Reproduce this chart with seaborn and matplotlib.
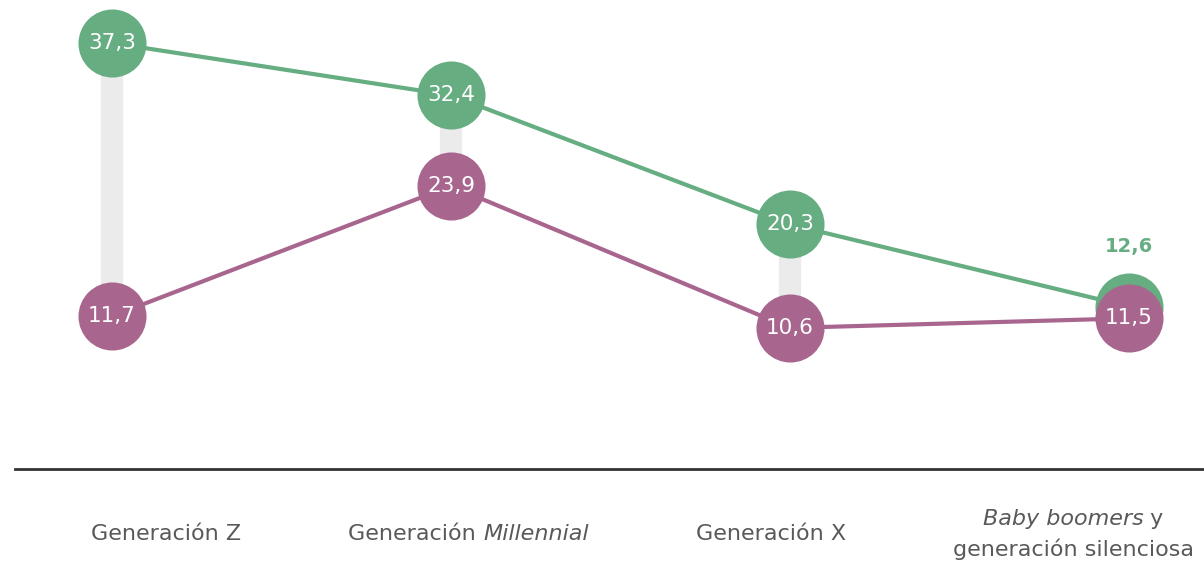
import matplotlib
matplotlib.use("Agg")
import matplotlib.pyplot as plt
import matplotlib.transforms as mtransforms
import seaborn as sns
import pandas as pd

# data
categories = ["Generación Z", "Generación Millennial", "Generación X",
              "Baby boomers y generación silenciosa"]
green_vals = [37.3, 32.4, 20.3, 12.6]
purple_vals = [11.7, 23.9, 10.6, 11.5]
# tick labels with italic parts, line by line
tick_parts = [
    [[("Generación Z", "normal")]],
    [[("Generación ", "normal"), ("Millennial", "italic")]],
    [[("Generación X", "normal")]],
    [[("Baby boomers", "italic"), (" y", "normal")],
     [("generación silenciosa", "normal")]],
]

GREEN = "#66ad82"
PURPLE = "#a8668f"
GREY_BAR = "#ebebeb"
TXT = "#595959"

sns.set_style("white")
plt.rcParams["font.family"] = ["DejaVu Sans"]

df = pd.DataFrame({"x": range(len(categories)), "green": green_vals, "purple": purple_vals})

fig = plt.figure(figsize=(12.04, 5.63), dpi=100)
ax = fig.add_axes([15 / 1204, 94 / 563, 1 - 15 / 1204, 469 / 563])

# grey connectors
ax.vlines(df["x"], df["purple"], df["green"], color=GREY_BAR, lw=16, zorder=1)

sns.lineplot(data=df, x="x", y="green", color=GREEN, lw=3, marker="o",
             markersize=49, markeredgewidth=0, ax=ax, zorder=2, clip_on=False)
sns.lineplot(data=df, x="x", y="purple", color=PURPLE, lw=3, marker="o",
             markersize=49, markeredgewidth=0, ax=ax, zorder=3, clip_on=False)


def fmt(v):
    return f"{v:.1f}".replace(".", ",")


for i in range(len(categories)):
    g, p = green_vals[i], purple_vals[i]
    if abs(g - p) > 3:
        ax.text(i, g, fmt(g), ha="center", va="center", color="white",
                fontsize=15.5, zorder=5)
    else:
        ax.text(i, g + 5.6, fmt(g), ha="center", va="center", color=GREEN,
                fontsize=14, fontweight="bold", zorder=5)
    ax.text(i, p, fmt(p), ha="center", va="center", color="white",
            fontsize=15.5, zorder=5)

ax.set_xlim(-0.2861, 3.2212)
ax.set_ylim(-2.62, 41.33)
ax.set_xlabel("")
ax.set_ylabel("")
ax.set_xticks([])
ax.set_yticks([])
for s in ["top", "left", "right"]:
    ax.spines[s].set_visible(False)
ax.spines["bottom"].set_color("#333333")
ax.spines["bottom"].set_linewidth(2)

# category labels sit in equal bands along the baseline, mixed styles
band = 302.3 / (1204 - 15)
fig.canvas.draw()
renderer = fig.canvas.get_renderer()
for i, lines in enumerate(tick_parts):
    n = len(lines)
    for j, line in enumerate(lines):
        dy = -65 - (j - (n - 1) / 2) * 30
        texts = [ax.text(band * (i + 0.5), 0, s, style=st, fontsize=16, color=TXT,
                         ha="left", va="center", transform=ax.transAxes,
                         clip_on=False) for s, st in line]
        widths = [t.get_window_extent(renderer).width for t in texts]
        cursor = -sum(widths) / 2
        for t, w in zip(texts, widths):
            t.set_transform(mtransforms.offset_copy(ax.transAxes, fig=fig, x=cursor,
                                                    y=dy, units="dots"))
            cursor += w

fig.savefig("out.png", dpi=100)
